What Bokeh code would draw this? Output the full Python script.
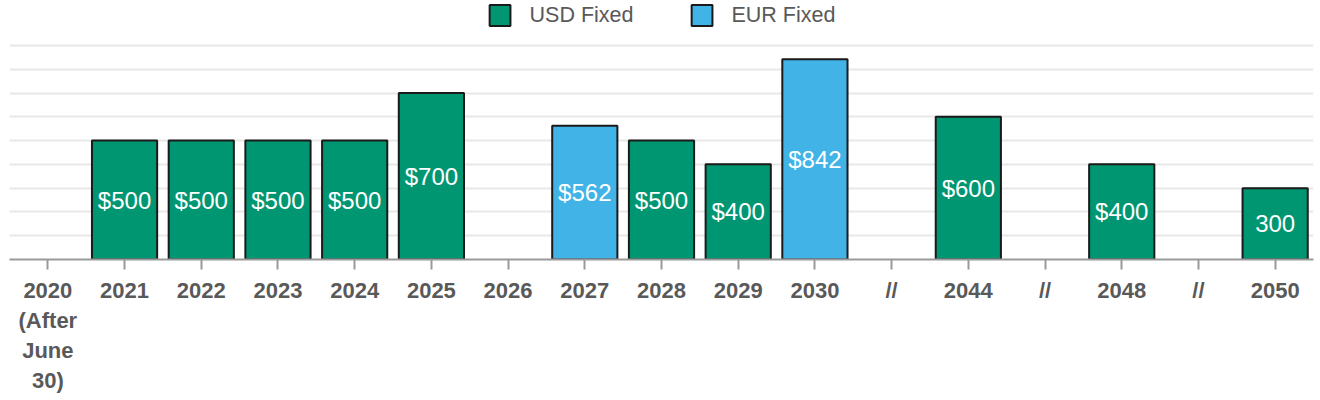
from bokeh.plotting import figure
from bokeh.models import ColumnDataSource, Range1d, FixedTicker, Legend, LegendItem
from bokeh.core.properties import value
from bokeh.embed import file_html
from bokeh.resources import INLINE

# categories as displayed on the axis ("//" gaps made unique with zero-width spaces)
factors = ["2020\n(After\nJune\n30)", "2021", "2022", "2023", "2024", "2025", "2026",
           "2027", "2028", "2029", "2030", "//", "2044", "//\u200b", "2048",
           "//\u200b\u200b", "2050"]

# series values (None = no bar)
usd_fixed = [0, 500, 500, 500, 500, 700, None, None, 500, 400, None, None, 600, None, 400, None, 300]
eur_fixed = [None, None, None, None, None, None, None, 562, None, None, 842, None, None, None, None, None, None]
# data labels as shown in the chart
bar_labels = ["$0", "$500", "$500", "$500", "$500", "$700", None, "$562", "$500",
              "$400", "$842", None, "$600", None, "$400", None, "300"]
grid_values = [100, 200, 300, 400, 500, 600, 700, 800, 900]

FONT = "Liberation Sans"
GREEN = "#009672"
BLUE = "#41B3E6"

usd_x = [f for f, v in zip(factors, usd_fixed) if v]
usd_y = [v for v in usd_fixed if v]
eur_x = [f for f, v in zip(factors, eur_fixed) if v]
eur_y = [v for v in eur_fixed if v]

lab_x, lab_y, lab_t = [], [], []
for f, u, e, t in zip(factors, usd_fixed, eur_fixed, bar_labels):
    if t is None:
        continue
    val = (u or 0) + (e or 0)
    lab_x.append(f)
    lab_y.append(val / 2)
    lab_t.append(t)

p = figure(x_range=factors, y_range=Range1d(0, 1089), width=1320, height=400,
           output_backend="svg", toolbar_location=None,
           min_border_left=9, min_border_right=7, min_border_top=0, min_border_bottom=141)

usd_src = ColumnDataSource(dict(x=usd_x, top=usd_y))
eur_src = ColumnDataSource(dict(x=eur_x, top=eur_y))
r_usd = p.vbar(x="x", top="top", width=0.85, source=usd_src, fill_color=GREEN,
               line_color="#1a1a1a", line_width=2)
r_eur = p.vbar(x="x", top="top", width=0.85, source=eur_src, fill_color=BLUE,
               line_color="#1a1a1a", line_width=2)

lab_src = ColumnDataSource(dict(x=lab_x, y=lab_y, t=lab_t))
p.text(x="x", y="y", text="t", source=lab_src, text_color="white",
       text_align="center", text_baseline="middle", text_font=value(FONT),
       text_font_size="24px")

p.yaxis.visible = False
p.xgrid.visible = False
p.ygrid.ticker = FixedTicker(ticks=grid_values)
p.ygrid.grid_line_color = "#e8e8e8"
p.ygrid.grid_line_width = 2
p.outline_line_color = None

ax = p.xaxis[0]
ax.axis_line_color = "#9a9a9a"
ax.axis_line_width = 2
ax.major_tick_line_color = "#9a9a9a"
ax.major_tick_line_width = 2
ax.major_tick_out = 10
ax.major_tick_in = 0
ax.minor_tick_out = 0
ax.major_label_standoff = 8
ax.major_label_text_font = FONT
ax.major_label_text_font_size = "22px"
ax.major_label_text_font_style = "bold"
ax.major_label_text_color = "#595959"
ax.major_label_text_line_height = 1.2
ax.major_label_text_align = "center"

legend = Legend(items=[LegendItem(label="USD Fixed", renderers=[r_usd]),
                       LegendItem(label="EUR Fixed", renderers=[r_eur])],
                orientation="horizontal", location="top_center",
                label_text_font=FONT, label_text_font_size="21.5px",
                label_text_color="#595959", glyph_width=26, glyph_height=26,
                label_standoff=17, spacing=55, padding=4, margin=2,
                border_line_color=None, background_fill_alpha=0)
p.add_layout(legend, "center")

open("out.html", "w").write(file_html(p, INLINE))
